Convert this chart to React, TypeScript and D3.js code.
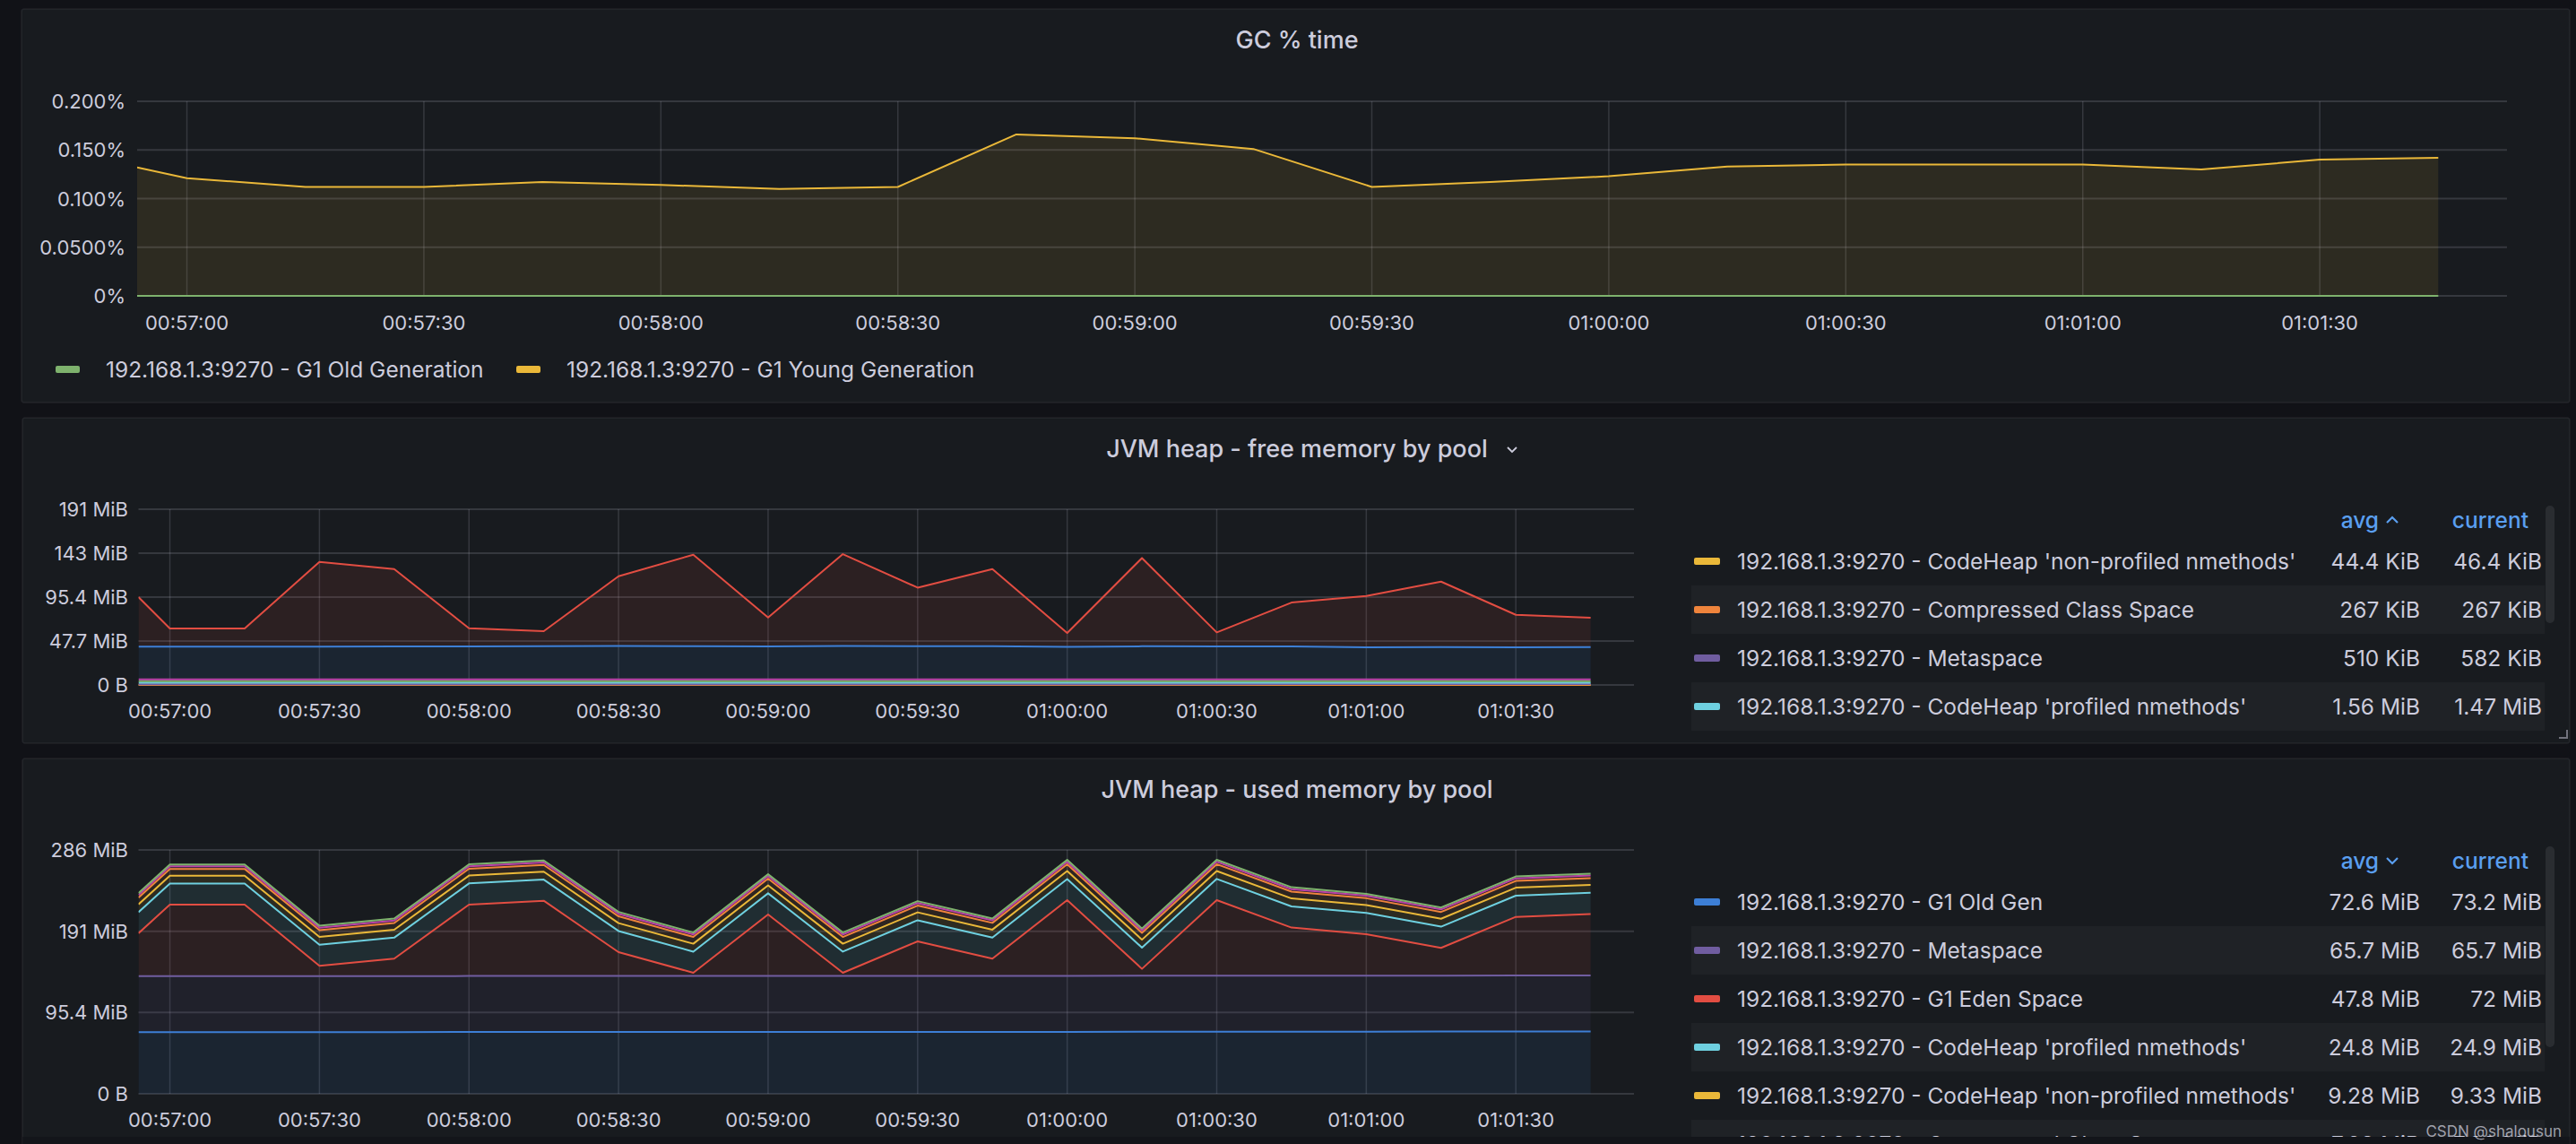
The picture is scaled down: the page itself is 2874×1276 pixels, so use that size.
import React, { useEffect } from 'react';
import * as d3 from 'd3';

const W = 2874;
const H = 1276;

// ---------- time axis ----------
const times = [
  '00:56:53.7', '00:57:00', '00:57:15', '00:57:30', '00:57:45', '00:58:00', '00:58:15',
  '00:58:30', '00:58:45', '00:59:00', '00:59:15', '00:59:30', '00:59:45', '01:00:00',
  '01:00:15', '01:00:30', '01:00:45', '01:01:00', '01:01:15', '01:01:30', '01:01:45',
];
const timeDomain = ['00:56:53.7', '01:01:53.7'];
const xTickLabels = [
  '00:57:00', '00:57:30', '00:58:00', '00:58:30', '00:59:00',
  '00:59:30', '01:00:00', '01:00:30', '01:01:00', '01:01:30',
];

// ---------- GC % time ----------
const gcOld = [0, 0, 0, 0, 0, 0, 0, 0, 0, 0, 0, 0, 0, 0, 0, 0, 0, 0, 0, 0, 0];
const gcYoung = [
  0.132, 0.121, 0.112, 0.112, 0.117, 0.114, 0.110, 0.112, 0.166, 0.162, 0.151,
  0.112, 0.117, 0.123, 0.133, 0.135, 0.135, 0.135, 0.130, 0.140, 0.142,
];
const gcTicks = [0, 0.05, 0.1, 0.15, 0.2];
const gcTickLabels = ['0%', '0.0500%', '0.100%', '0.150%', '0.200%'];
const gcNames = ['192.168.1.3:9270 - G1 Old Generation', '192.168.1.3:9270 - G1 Young Generation'];

// ---------- free memory (MiB) ----------
const freeNonProfiled = [0.044, 0.044, 0.043, 0.043, 0.044, 0.044, 0.044, 0.044, 0.044, 0.044, 0.045, 0.045, 0.044, 0.044, 0.044, 0.045, 0.045, 0.045, 0.046, 0.046, 0.046];
const freeCompressed = [0.267, 0.267, 0.267, 0.267, 0.267, 0.267, 0.267, 0.267, 0.267, 0.267, 0.267, 0.267, 0.267, 0.267, 0.267, 0.267, 0.267, 0.267, 0.267, 0.267, 0.267];
const freeMetaspace = [0.47, 0.47, 0.47, 0.48, 0.48, 0.48, 0.49, 0.49, 0.49, 0.5, 0.5, 0.5, 0.51, 0.51, 0.52, 0.53, 0.54, 0.55, 0.56, 0.57, 0.58];
const freeProfiled = [1.62, 1.62, 1.61, 1.61, 1.6, 1.6, 1.59, 1.58, 1.58, 1.57, 1.57, 1.56, 1.55, 1.55, 1.54, 1.53, 1.52, 1.51, 1.5, 1.48, 1.47];
const freeNonNmethods = [1.75, 1.75, 1.75, 1.75, 1.75, 1.75, 1.75, 1.75, 1.75, 1.75, 1.75, 1.75, 1.75, 1.75, 1.75, 1.75, 1.75, 1.75, 1.75, 1.75, 1.75];
const freeSurvivor = [1.85, 1.85, 1.85, 1.85, 1.85, 1.85, 1.85, 1.85, 1.85, 1.85, 1.85, 1.85, 1.85, 1.85, 1.85, 1.85, 1.85, 1.85, 1.85, 1.85, 1.85];
const freeOldGen = [35.5, 35.5, 35.5, 35.6, 35.9, 35.8, 36.2, 36.3, 36.0, 35.8, 36.3, 36.0, 36.1, 35.5, 36.0, 35.8, 35.8, 35.0, 35.2, 35.0, 35.2];
const freeEden = [53.9, 19.8, 19.8, 92.0, 83.9, 19.8, 16.2, 75.7, 99.4, 31.5, 99.7, 63.7, 83.7, 14.9, 95.8, 15.3, 47.7, 55.6, 71.0, 35.2, 31.8];
const freeNames = [
  "192.168.1.3:9270 - CodeHeap 'non-profiled nmethods'",
  '192.168.1.3:9270 - Compressed Class Space',
  '192.168.1.3:9270 - Metaspace',
  "192.168.1.3:9270 - CodeHeap 'profiled nmethods'",
  "192.168.1.3:9270 - CodeHeap 'non-nmethods'",
  '192.168.1.3:9270 - G1 Survivor Space',
  '192.168.1.3:9270 - G1 Old Gen',
  '192.168.1.3:9270 - G1 Eden Space',
];
const freeAvg = ['44.4 KiB', '267 KiB', '510 KiB', '1.56 MiB', '1.75 MiB', '1.85 MiB', '35.8 MiB', '54.2 MiB'];
const freeCurrent = ['46.4 KiB', '267 KiB', '582 KiB', '1.47 MiB', '1.75 MiB', '1.85 MiB', '35.2 MiB', '31.8 MiB'];
const freeTicks = [0, 50e6, 100e6, 150e6, 200e6];
const freeTickLabels = ['0 B', '47.7 MiB', '95.4 MiB', '143 MiB', '191 MiB'];

// ---------- used memory (MiB) ----------
const usedOldGen = [72.3, 72.3, 72.3, 72.4, 72.4, 72.5, 72.5, 72.5, 72.5, 72.6, 72.6, 72.6, 72.7, 72.7, 72.8, 72.8, 72.9, 72.9, 73.0, 73.1, 73.2];
const usedMetaspace = [65.7, 65.7, 65.7, 65.7, 65.7, 65.7, 65.7, 65.7, 65.7, 65.7, 65.7, 65.7, 65.7, 65.7, 65.7, 65.7, 65.7, 65.7, 65.7, 65.7, 65.7];
const usedEden = [50.3, 84.0, 84.0, 12.0, 20.4, 83.8, 88.3, 28.0, 3.8, 72.1, 3.7, 40.5, 20.1, 88.8, 8.1, 88.7, 56.4, 48.7, 32.5, 68.8, 72.0];
const usedProfiled = [24.7, 24.7, 24.7, 24.7, 24.7, 24.8, 24.8, 24.8, 24.8, 24.8, 24.8, 24.8, 24.8, 24.8, 24.9, 24.9, 24.9, 24.9, 24.9, 24.9, 24.9];
const usedNonProfiled = [9.22, 9.22, 9.23, 9.24, 9.25, 9.25, 9.26, 9.27, 9.27, 9.28, 9.28, 9.29, 9.29, 9.3, 9.3, 9.31, 9.31, 9.32, 9.32, 9.33, 9.33];
const usedCompressed = [7.93, 7.93, 7.93, 7.93, 7.93, 7.93, 7.93, 7.93, 7.93, 7.93, 7.93, 7.93, 7.93, 7.93, 7.93, 7.93, 7.93, 7.93, 7.93, 7.93, 7.93];
const usedSurvivor = [3.0, 3.0, 3.0, 3.0, 3.0, 3.0, 3.0, 3.0, 3.0, 3.0, 3.0, 3.0, 3.0, 3.0, 3.0, 3.0, 3.0, 3.0, 3.0, 3.0, 3.0];
const usedNonNmethods = [2.2, 2.2, 2.2, 2.2, 2.2, 2.2, 2.2, 2.2, 2.2, 2.2, 2.2, 2.2, 2.2, 2.2, 2.2, 2.2, 2.2, 2.2, 2.2, 2.2, 2.2];
const usedNames = [
  '192.168.1.3:9270 - G1 Old Gen',
  '192.168.1.3:9270 - Metaspace',
  '192.168.1.3:9270 - G1 Eden Space',
  "192.168.1.3:9270 - CodeHeap 'profiled nmethods'",
  "192.168.1.3:9270 - CodeHeap 'non-profiled nmethods'",
  '192.168.1.3:9270 - Compressed Class Space',
  '192.168.1.3:9270 - G1 Survivor Space',
  "192.168.1.3:9270 - CodeHeap 'non-nmethods'",
];
const usedAvg = ['72.6 MiB', '65.7 MiB', '47.8 MiB', '24.8 MiB', '9.28 MiB', '7.93 MiB', '3 MiB', '2.2 MiB'];
const usedCurrent = ['73.2 MiB', '65.7 MiB', '72 MiB', '24.9 MiB', '9.33 MiB', '7.93 MiB', '3 MiB', '2.2 MiB'];
const usedTicks = [0, 100e6, 200e6, 300e6];
const usedTickLabels = ['0 B', '95.4 MiB', '191 MiB', '286 MiB'];

// ---------- styling ----------
const C = {
  green: '#7EB26D',
  yellow: '#EAB839',
  cyan: '#6ED0E0',
  orange: '#EF843C',
  red: '#E24D42',
  blue: '#3D7FD6',
  magenta: '#BA43A9',
  purple: '#705DA0',
};
const FONT = "Inter, 'Noto Sans', sans-serif";
const TEXT = '#ccccdc';
const PAGE_BG = '#111217';
const PANEL_BG = '#181b1f';
const GRID = 'rgba(204,204,220,0.17)';
const LINK = '#5a9ff0';
const MIB = 1048576;

const gcColors = [C.green, C.yellow];
const freeColors = [C.yellow, C.orange, C.purple, C.cyan, C.green, C.magenta, C.blue, C.red];
const usedColors = [C.blue, C.purple, C.red, C.cyan, C.yellow, C.orange, C.magenta, C.green];

function toSec(s: string): number {
  const [h, m, sec] = s.split(':');
  return +h * 3600 + +m * 60 + +sec;
}

type Box = { left: number; right: number; top: number; bottom: number };

function TimeChart(props: {
  id: string;
  box: Box;
  yMax: number;
  yTicks: number[];
  yTickLabels: string[];
  yLabelX: number;
  xLabelY: number;
  series: number[][];
  colors: string[];
  unit: number;
  stacked: boolean;
}) {
  const { id, box, yMax, yTicks, yTickLabels, yLabelX, xLabelY, series, colors, unit, stacked } = props;
  const x = d3.scaleLinear().domain(timeDomain.map(toSec)).range([box.left, box.right]);
  const y = d3.scaleLinear().domain([0, yMax]).range([box.bottom, box.top]);
  const ts = times.map(toSec);
  const keys = series.map((_, j) => 'k' + j);
  const rows = ts.map((t, i) => {
    const r: any = { t };
    series.forEach((s, j) => (r['k' + j] = s[i] * unit));
    return r;
  });
  let layers: any[];
  if (stacked) {
    layers = d3.stack().keys(keys)(rows as any) as any[];
  } else {
    layers = keys.map((k) =>
      rows.map((r) => {
        const p: any = [0, r[k]];
        p.data = r;
        return p;
      })
    );
  }
  const area = d3
    .area<any>()
    .x((d) => x(d.data.t))
    .y0((d) => y(d[0]))
    .y1((d) => y(d[1]));
  const line = d3
    .line<any>()
    .x((d) => x(d.data.t))
    .y((d) => y(d[1]));
  const xTicks = xTickLabels.map(toSec);
  return (
    <g>
      <defs>
        <clipPath id={id}>
          <rect x={box.left} y={box.top - 4} width={box.right - box.left} height={box.bottom - box.top + 8} />
        </clipPath>
      </defs>
      {yTicks.map((v, i) => (
        <line key={'h' + i} x1={box.left} x2={box.right} y1={y(v)} y2={y(v)} stroke={GRID} strokeWidth={2} />
      ))}
      {xTicks.map((t, i) => (
        <line key={'v' + i} x1={x(t)} x2={x(t)} y1={box.top} y2={box.bottom} stroke={GRID} strokeWidth={1.5} />
      ))}
      {yTicks.map((v, i) => (
        <text
          key={'yl' + i}
          x={yLabelX}
          y={y(v)}
          textAnchor="end"
          dominantBaseline="central"
          fill={TEXT}
          fontSize={22}
          fontFamily={FONT}
        >
          {yTickLabels[i]}
        </text>
      ))}
      {xTicks.map((t, i) => (
        <text
          key={'xl' + i}
          x={x(t)}
          y={xLabelY}
          textAnchor="middle"
          dominantBaseline="central"
          fill={TEXT}
          fontSize={22}
          fontFamily={FONT}
        >
          {xTickLabels[i]}
        </text>
      ))}
      <g clipPath={`url(#${id})`}>
        {layers.map((l, j) => (
          <path key={'a' + j} d={area(l) || ''} fill={colors[j]} fillOpacity={0.1} />
        ))}
        {layers.map((l, j) => (
          <path key={'l' + j} d={line(l) || ''} fill="none" stroke={colors[j]} strokeWidth={2} strokeLinejoin="round" />
        ))}
      </g>
    </g>
  );
}

function TableLegend(props: {
  id: string;
  names: string[];
  colors: string[];
  avg: string[];
  current: string[];
  headerY: number;
  firstRowY: number;
  clipTop: number;
  clipBottom: number;
  sortUp: boolean;
  thumbTop: number;
  thumbBottom: number;
}) {
  const { id, names, colors, avg, current, headerY, firstRowY, clipTop, clipBottom, sortUp, thumbTop, thumbBottom } = props;
  const rowH = 54;
  const chev = sortUp
    ? `M2663 ${headerY + 3} L2669 ${headerY - 3} L2675 ${headerY + 3}`
    : `M2663 ${headerY - 3} L2669 ${headerY + 3} L2675 ${headerY - 3}`;
  // only rows that reach into the visible (scrolled) legend window are drawn
  const visible = names
    .map((n, i) => ({ n, i, cy: firstRowY + i * rowH }))
    .filter((r) => r.cy - rowH / 2 < clipBottom);
  return (
    <g fontFamily={FONT}>
      <defs>
        <clipPath id={id}>
          <rect x={1880} y={clipTop} width={970} height={clipBottom - clipTop} />
        </clipPath>
      </defs>
      <text x={2654} y={headerY} textAnchor="end" dominantBaseline="central" fill={LINK} fontSize={24.5} fontWeight={500}>
        avg
      </text>
      <path d={chev} fill="none" stroke={LINK} strokeWidth={2.2} />
      <text x={2821} y={headerY} textAnchor="end" dominantBaseline="central" fill={LINK} fontSize={24.5} fontWeight={500}>
        current
      </text>
      <rect x={2840} y={thumbTop} width={10} height={thumbBottom - thumbTop} rx={5} fill="rgba(204,204,220,0.1)" />
      <g clipPath={`url(#${id})`}>
        {visible.map(({ n, i, cy }) => (
          <g key={i}>
            {i % 2 === 1 && <rect x={1887} y={cy - rowH / 2} width={952} height={rowH} fill="rgba(204,204,220,0.045)" />}
            <rect x={1890} y={cy - 4} width={29} height={8} rx={2} fill={colors[i]} />
            <text x={1938} y={cy} dominantBaseline="central" fill={TEXT} fontSize={24.5}>
              {n}
            </text>
            <text x={2700} y={cy} textAnchor="end" dominantBaseline="central" fill={TEXT} fontSize={24.5}>
              {avg[i]}
            </text>
            <text x={2836} y={cy} textAnchor="end" dominantBaseline="central" fill={TEXT} fontSize={24.5}>
              {current[i]}
            </text>
          </g>
        ))}
      </g>
    </g>
  );
}

export default function App() {
  useEffect(() => {
    document.body.style.margin = '0';
    document.body.style.background = PAGE_BG;
  }, []);

  const panelStroke = 'rgba(204,204,220,0.08)';
  return (
    <svg width={W} height={H} style={{ position: 'absolute', left: 0, top: 0, display: 'block' }}>
      <rect x={0} y={0} width={W} height={H} fill={PAGE_BG} />

      {/* ---------- Panel 1: GC % time ---------- */}
      <rect x={24} y={10} width={2843} height={439} rx={3} fill={PANEL_BG} stroke={panelStroke} strokeWidth={1.5} />
      <text x={1447} y={44} textAnchor="middle" dominantBaseline="central" fill={TEXT} fontSize={27} fontWeight={500} fontFamily={FONT}>
        GC % time
      </text>
      <TimeChart
        id="clip-gc"
        box={{ left: 153, right: 2797, top: 113, bottom: 330 }}
        yMax={0.2}
        yTicks={gcTicks}
        yTickLabels={gcTickLabels}
        yLabelX={140}
        xLabelY={360}
        series={[gcYoung, gcOld]}
        colors={[gcColors[1], gcColors[0]]}
        unit={1}
        stacked={false}
      />
      <g fontFamily={FONT}>
        <rect x={62} y={408} width={27} height={8} rx={2} fill={gcColors[0]} />
        <text x={118} y={412} dominantBaseline="central" fill={TEXT} fontSize={24.5}>
          {gcNames[0]}
        </text>
        <rect x={576} y={408} width={27} height={8} rx={2} fill={gcColors[1]} />
        <text x={632} y={412} dominantBaseline="central" fill={TEXT} fontSize={24.5}>
          {gcNames[1]}
        </text>
      </g>

      {/* ---------- Panel 2: free memory ---------- */}
      <rect x={25} y={466} width={2842} height={363} rx={3} fill={PANEL_BG} stroke={panelStroke} strokeWidth={1.5} />
      <text x={1447} y={500} textAnchor="middle" dominantBaseline="central" fill={TEXT} fontSize={27} fontWeight={500} fontFamily={FONT}>
        JVM heap - free memory by pool
      </text>
      <path d="M1682 499 L1687 504 L1692 499" fill="none" stroke={TEXT} strokeWidth={1.8} />
      <TimeChart
        id="clip-free"
        box={{ left: 154.5, right: 1823, top: 568, bottom: 764 }}
        yMax={200e6}
        yTicks={freeTicks}
        yTickLabels={freeTickLabels}
        yLabelX={143}
        xLabelY={793}
        series={[freeNonProfiled, freeCompressed, freeMetaspace, freeProfiled, freeNonNmethods, freeSurvivor, freeOldGen, freeEden]}
        colors={freeColors}
        unit={MIB}
        stacked={true}
      />
      <TableLegend
        id="clip-free-legend"
        names={freeNames}
        colors={freeColors}
        avg={freeAvg}
        current={freeCurrent}
        headerY={580}
        firstRowY={626}
        clipTop={598}
        clipBottom={816}
        sortUp={true}
        thumbTop={564}
        thumbBottom={695}
      />
      <path d="M2864 814 L2864 823 L2855 823" fill="none" stroke="rgba(204,204,220,0.5)" strokeWidth={2} />

      {/* ---------- Panel 3: used memory ---------- */}
      <rect x={25} y={846} width={2842} height={460} rx={3} fill={PANEL_BG} stroke={panelStroke} strokeWidth={1.5} />
      <text x={1447} y={880} textAnchor="middle" dominantBaseline="central" fill={TEXT} fontSize={27} fontWeight={500} fontFamily={FONT}>
        JVM heap - used memory by pool
      </text>
      <TimeChart
        id="clip-used"
        box={{ left: 154.5, right: 1823, top: 948, bottom: 1220 }}
        yMax={300e6}
        yTicks={usedTicks}
        yTickLabels={usedTickLabels}
        yLabelX={143}
        xLabelY={1249}
        series={[usedOldGen, usedMetaspace, usedEden, usedProfiled, usedNonProfiled, usedCompressed, usedSurvivor, usedNonNmethods]}
        colors={usedColors}
        unit={MIB}
        stacked={true}
      />
      <TableLegend
        id="clip-used-legend"
        names={usedNames}
        colors={usedColors}
        avg={usedAvg}
        current={usedCurrent}
        headerY={960}
        firstRowY={1006}
        clipTop={978}
        clipBottom={1268}
        sortUp={false}
        thumbTop={944}
        thumbBottom={1168}
      />
      <rect x={25} y={1268} width={2842} height={8} fill={PAGE_BG} opacity={0.6} />
      <text x={2858} y={1262} textAnchor="end" dominantBaseline="central" fill="rgba(220,220,230,0.7)" fontSize={17} fontFamily={FONT}>
        CSDN @shalousun
      </text>
    </svg>
  );
}
